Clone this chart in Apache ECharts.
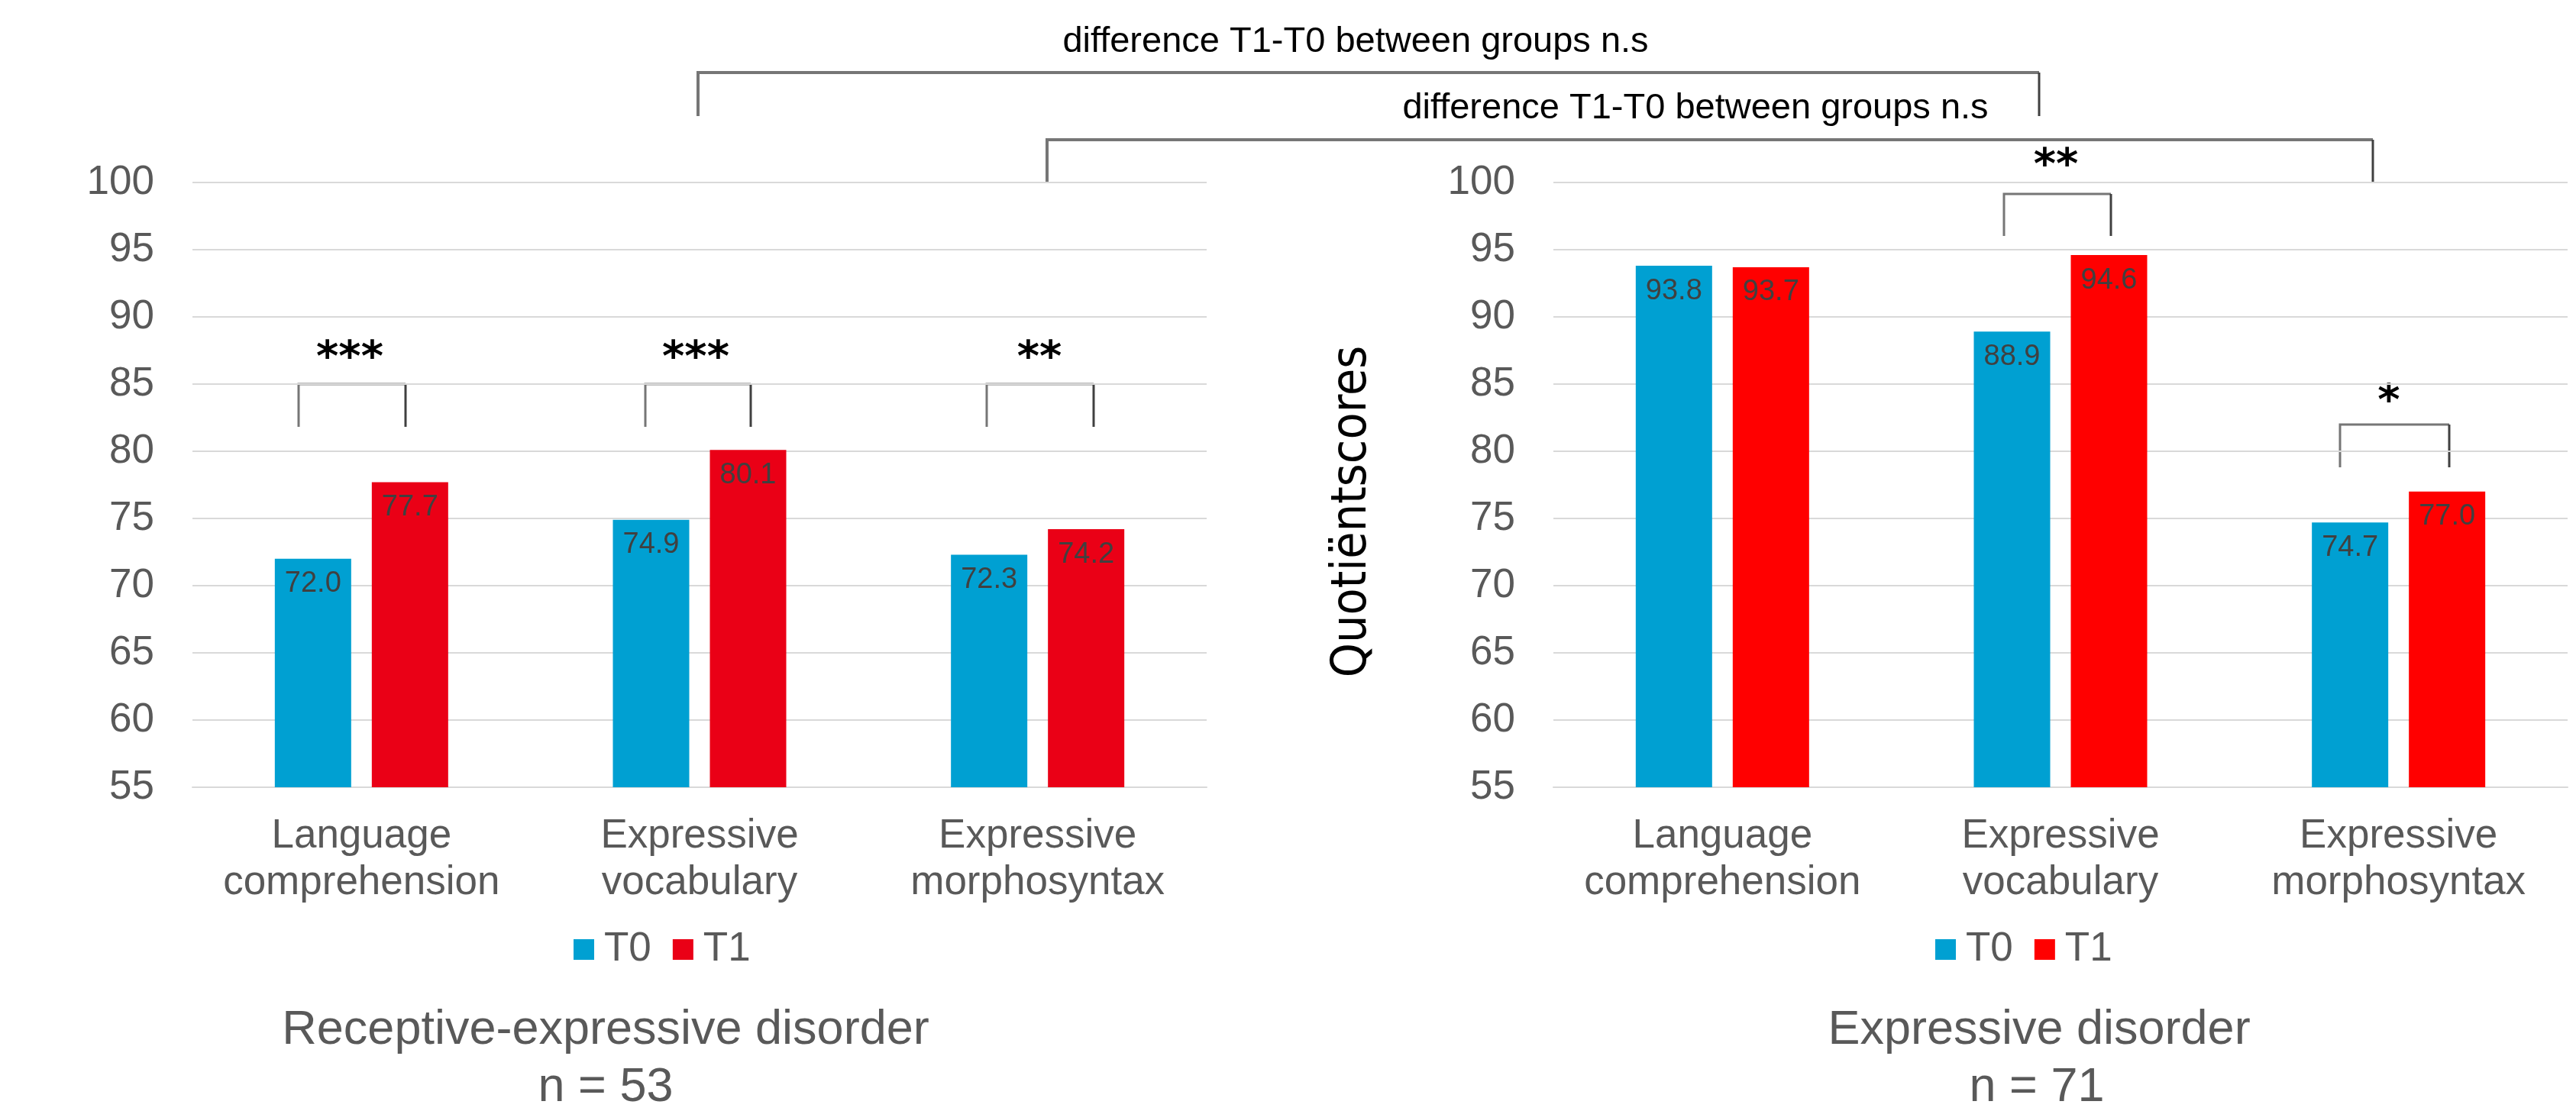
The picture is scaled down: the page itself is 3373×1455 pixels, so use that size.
<!DOCTYPE html>
<html>
<head>
<meta charset="utf-8">
<script src="https://cdn.jsdelivr.net/npm/echarts@6/dist/echarts.min.js"></script>
<style>
html,body{margin:0;padding:0;background:#fff;}
#chart{width:3373px;height:1455px;}
</style>
</head>
<body>
<div id="chart"></div>
<script>
// ---- data ----
const categories = ['Language\ncomprehension', 'Expressive\nvocabulary', 'Expressive\nmorphosyntax'];
const seriesNames = ['T0', 'T1'];
const receptiveT0 = [72.0, 74.9, 72.3];
const receptiveT1 = [77.7, 80.1, 74.2];
const expressiveT0 = [93.8, 88.9, 74.7];
const expressiveT1 = [93.7, 94.6, 77.0];
const yMin = 55, yMax = 100, yStep = 5;
const panelTitles = ['Receptive-expressive disorder', 'Expressive disorder'];
const panelN = ['n = 53', 'n = 71'];
const yAxisTitle = 'Quotiëntscores';
const groupNote = 'difference T1-T0 between groups n.s';
const sigLeft = ['***', '***', '**'];
const sigRight = ['', '**', '*'];

// ---- styles ----
const FONT = "'Liberation Sans', Arial, sans-serif";
const BLUE = '#00A0D2';
const RED_L = '#EA0016';
const RED_R = '#FF0000';
const GRAY = '#595959';
const GRID = '#D9D9D9';

const chart = echarts.init(document.getElementById('chart'), null, {renderer: 'canvas'});

function xAxisCfg(gi) {
  return {
    type: 'category', gridIndex: gi, data: categories,
    axisLine: {show: true, lineStyle: {color: GRID, width: 2}},
    axisTick: {show: false},
    axisLabel: {interval: 0, fontSize: 53, lineHeight: 61, color: GRAY, fontFamily: FONT, margin: 34}
  };
}
function yAxisCfg(gi) {
  return {
    type: 'value', gridIndex: gi, min: yMin, max: yMax, interval: yStep,
    axisLine: {show: false}, axisTick: {show: false},
    splitLine: {lineStyle: {color: GRID, width: 2}},
    axisLabel: {fontSize: 53, color: GRAY, fontFamily: FONT, margin: 50}
  };
}
const labelCfg = {
  show: true, position: 'insideTop', distance: 14,
  formatter: p => Number(p.value).toFixed(1),
  fontSize: 38, color: '#404040', fontFamily: FONT
};
function barSeries(name, data, gi, color) {
  return {
    name: name, type: 'bar', xAxisIndex: gi, yAxisIndex: gi, data: data,
    barWidth: 100, barGap: '27%', itemStyle: {color: color},
    label: labelCfg, silent: true
  };
}
function legendCfg(left, red) {
  return {
    left: left, top: 1212, itemWidth: 27, itemHeight: 27, itemGap: 28, icon: 'rect',
    textStyle: {fontSize: 53, color: GRAY, fontFamily: FONT, padding: [0, 0, 0, 8]},
    data: [{name: seriesNames[0], itemStyle: {color: BLUE}}, {name: seriesNames[1], itemStyle: {color: red}}],
    selectedMode: false
  };
}

// ---- annotation helpers (overlay graphics) ----
const graphics = [];
function bracket(x1, x2, yTop, yBot, w) {
  graphics.push({type: 'polyline', silent: true, shape: {points: [[x1, yBot], [x1, yTop], [x2, yTop]]},
    style: {stroke: '#767676', lineWidth: w || 3, fill: null}});
  graphics.push({type: 'line', silent: true, shape: {x1: x2, y1: yTop, x2: x2, y2: yBot},
    style: {stroke: '#404040', lineWidth: 3}});
}
function text(str, x, y, size, color, opts) {
  opts = opts || {};
  graphics.push({type: 'text', silent: true, x: x, y: y, rotation: opts.rotation || 0,
    style: {text: str, fill: color, font: (opts.weight || 'normal') + ' ' + size + 'px ' + (opts.family || FONT),
      textAlign: 'center', textVerticalAlign: 'middle', align: 'center', verticalAlign: 'middle'}});
}

// top between-group brackets
bracket(914, 2670, 95, 152, 4);
text(groupNote, 1775, 55, 47, '#000');
bracket(1371, 3107, 183, 239, 4);
text(groupNote, 2220, 142, 47, '#000');

// within-group brackets
const STAR = "'DejaVu Sans', sans-serif";
bracket(391, 531, 503, 559);
bracket(845, 983, 503, 559);
bracket(1292, 1432, 503, 559);
text(sigLeft[0], 458, 470, 56, '#000', {family: STAR, weight: 'bold'});
text(sigLeft[1], 911, 470, 56, '#000', {family: STAR, weight: 'bold'});
text(sigLeft[2], 1361, 470, 56, '#000', {family: STAR, weight: 'bold'});
bracket(2624, 2764, 254, 309);
bracket(3064, 3207, 556, 612);
text(sigRight[1], 2692, 218, 56, '#000', {family: STAR, weight: 'bold'});
text(sigRight[2], 3128, 527, 56, '#000', {family: STAR, weight: 'bold'});

// y axis name
text(yAxisTitle, 1771, 670, 64, '#000', {family: "'DejaVu Sans Condensed', 'DejaVu Sans', sans-serif", rotation: Math.PI / 2});

// panel subtitles
text(panelTitles[0], 793, 1350, 63, GRAY);
text(panelN[0], 793, 1425, 63, GRAY);
text(panelTitles[1], 2670, 1350, 63, GRAY);
text(panelN[1], 2667, 1425, 63, GRAY);

chart.setOption({
  animation: false,
  backgroundColor: '#fff',
  grid: [
    {left: 252, top: 239, width: 1328, height: 792},
    {left: 2034, top: 239, width: 1328, height: 792}
  ],
  xAxis: [xAxisCfg(0), xAxisCfg(1)],
  yAxis: [yAxisCfg(0), yAxisCfg(1)],
  legend: [legendCfg(746, RED_L), legendCfg(2529, RED_R)],
  series: [
    barSeries(seriesNames[0], receptiveT0, 0, BLUE),
    barSeries(seriesNames[1], receptiveT1, 0, RED_L),
    barSeries(seriesNames[0], expressiveT0, 1, BLUE),
    barSeries(seriesNames[1], expressiveT1, 1, RED_R)
  ],
  graphic: graphics
});
</script>
</body>
</html>
